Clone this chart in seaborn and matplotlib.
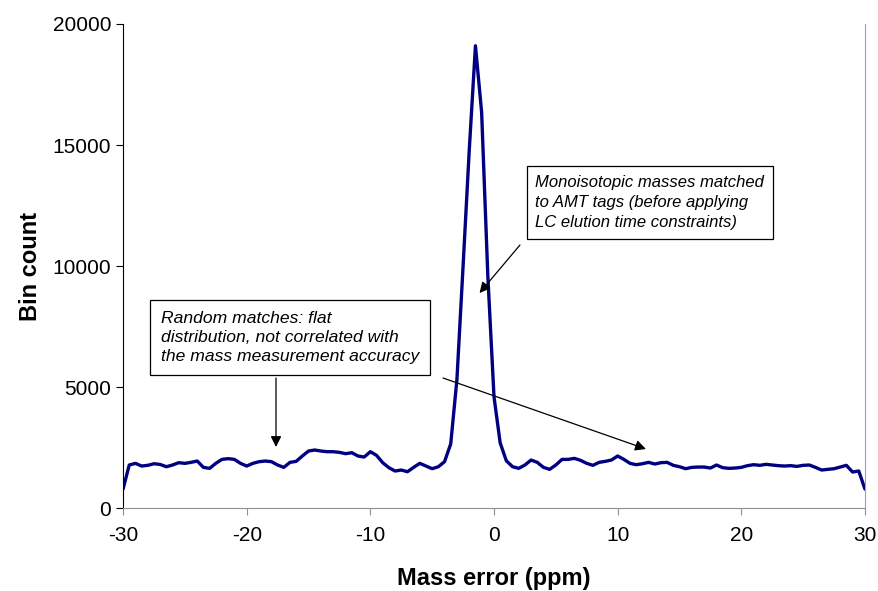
import numpy as np
import seaborn as sns
import matplotlib.pyplot as plt

# bin centres (0.5 ppm bins from -30 to 30)
mass_error = np.linspace(-30, 30, 121)

# bin counts
bin_count = [
    785, 1777, 1846, 1735, 1764, 1830, 1800, 1707, 1777, 1873,
    1846, 1887, 1942, 1680, 1640, 1846, 2010, 2040, 2010, 1846,
    1735, 1846, 1915, 1942, 1915, 1777, 1680, 1887, 1928, 2149,
    2355, 2397, 2355, 2327, 2327, 2300, 2245, 2286, 2149, 2107,
    2327, 2176, 1873, 1666, 1529, 1570, 1500, 1680, 1846, 1735,
    1625, 1707, 1915, 2650, 5300, 10000, 14800, 19100, 16350, 9600,
    4600, 2690, 1950, 1707, 1640, 1777, 1983, 1887, 1680, 1598,
    1777, 2010, 2010, 2052, 1970, 1846, 1764, 1887, 1928, 1983,
    2149, 2010, 1846, 1790, 1830, 1887, 1818, 1873, 1887, 1764,
    1707, 1625, 1680, 1693, 1693, 1652, 1777, 1666, 1640, 1652,
    1680, 1750, 1790, 1764, 1805, 1777, 1750, 1735, 1750, 1720,
    1764, 1777, 1680, 1570, 1598, 1625, 1693, 1764, 1488, 1530,
    785,
]

x_ticks = [-30, -20, -10, 0, 10, 20, 30]
y_ticks = [0, 5000, 10000, 15000, 20000]

peak_note = "Monoisotopic masses matched\nto AMT tags (before applying\nLC elution time constraints)"
random_note = "Random matches: flat\ndistribution, not correlated with\nthe mass measurement accuracy"

sns.set_style("ticks")
plt.rcParams['font.family'] = ['Liberation Sans', 'DejaVu Sans']
plt.rcParams['axes.unicode_minus'] = False

fig, ax = plt.subplots(figsize=(8.79, 5.91), dpi=100)
fig.subplots_adjust(left=0.14, right=0.984, bottom=0.1404, top=0.9594)

sns.lineplot(x=mass_error, y=bin_count, ax=ax, color='#000080', linewidth=2.4)

ax.set_xlim(-30, 30)
ax.set_ylim(0, 20000)
ax.set_xticks(x_ticks)
ax.set_yticks(y_ticks)
ax.tick_params(axis='both', labelsize=15, direction='out', labelcolor='black')
ax.tick_params(axis='x', colors='#909090', labelcolor='black', length=5, pad=8)
ax.tick_params(axis='y', length=5, color='black')
ax.set_xlabel('Mass error (ppm)', fontsize=17, fontweight='bold', labelpad=16, color='black')
ax.set_ylabel('Bin count', fontsize=17, fontweight='bold', labelpad=8, color='black')

# Excel-like frame
ax.spines['top'].set_visible(False)
ax.spines['right'].set_color('#a0a0a0')
ax.spines['bottom'].set_color('#909090')
ax.spines['left'].set_color('black')

box = dict(boxstyle='square,pad=0.5', fc='white', ec='black', lw=0.9)
ax.text(12.6, 12624, peak_note, fontsize=12, style='italic', ha='center', va='center',
        multialignment='left', linespacing=1.45, bbox=box, color='black')
box2 = dict(boxstyle='square,pad=0.62', fc='white', ec='black', lw=0.9)
ax.text(-16.5, 7045, random_note, fontsize=12.6, style='italic', ha='center', va='center',
        multialignment='left', linespacing=1.35, bbox=box2, color='black')

arrow = dict(arrowstyle='-|>', color='black', lw=0.9, mutation_scale=16, shrinkA=0, shrinkB=0)
ax.annotate('', xy=(-1.17, 8884), xytext=(2.10, 10868), arrowprops=arrow)
ax.annotate('', xy=(-17.63, 2521), xytext=(-17.63, 5372), arrowprops=arrow)
ax.annotate('', xy=(12.29, 2438), xytext=(-4.12, 5372), arrowprops=arrow)

plt.savefig('out.png', dpi=100)
